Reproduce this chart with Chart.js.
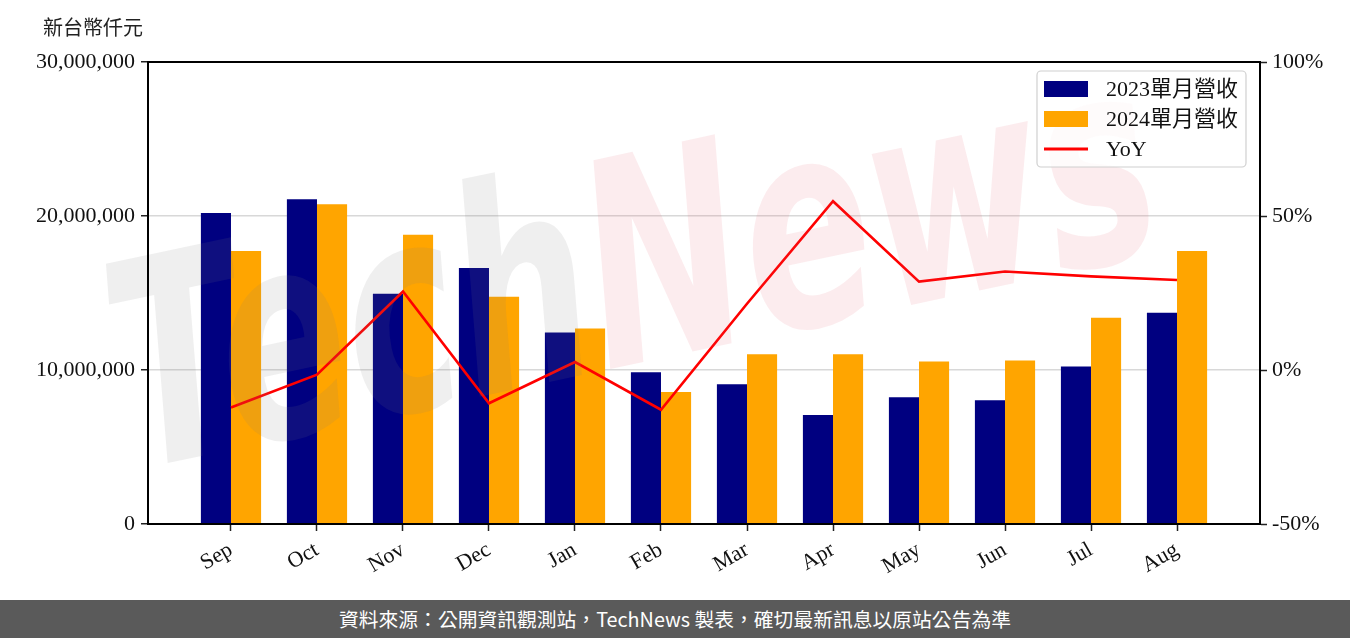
<!DOCTYPE html>
<html>
<head>
<meta charset="utf-8">
<script src="https://cdn.jsdelivr.net/npm/chart.js@4.4.1/dist/chart.umd.min.js"></script>
<style>
  html, body { margin: 0; padding: 0; background: #fff; }
  #wrap { position: relative; width: 1350px; height: 600px; }
  #footer { width: 1350px; height: 38px; background: #5a5a5a; color: #fff;
    font-family: 'Noto Sans CJK TC', 'Noto Sans', sans-serif; font-size: 19.8px;
    line-height: 38px; text-align: center; }
</style>
</head>
<body>
<div id="wrap"><canvas id="c" width="1350" height="600"></canvas></div>
<div id="footer">資料來源：公開資訊觀測站，TechNews 製表，確切最新訊息以原站公告為準</div>
<script>
const months = ['Sep','Oct','Nov','Dec','Jan','Feb','Mar','Apr','May','Jun','Jul','Aug'];
const rev2023 = [20190000, 21090000, 14950000, 16630000, 12430000, 9860000, 9070000, 7070000, 8230000, 8040000, 10230000, 13720000];
const rev2024 = [17730000, 20770000, 18790000, 14760000, 12690000, 8570000, 11030000, 11030000, 10560000, 10620000, 13400000, 17730000];
const yoy = [-12.2, -1.5, 25.5, -10.8, 2.6, -12.9, 21.5, 54.8, 28.7, 32.0, 30.4, 29.2];
const leftTicks = [0, 10000000, 20000000, 30000000];
const rightTicks = [-50, 0, 50, 100];
const unitTitle = '新台幣仟元';
const seriesLabels = ['2023單月營收', '2024單月營收', 'YoY'];

const serif = "'Liberation Serif', 'Noto Sans CJK TC', serif";
const FS = 22;

const decor = {
  id: 'decor',
  afterDatasetsDraw(chart) {
    const ctx = chart.ctx;
    ctx.save();
    ctx.translate(135, 470);
    ctx.rotate(-12 * Math.PI / 180);
    ctx.scale(1, 1.5);
    ctx.font = "bold italic 190px 'DejaVu Sans'";
    ctx.textBaseline = 'alphabetic';
    ctx.fillStyle = 'rgba(120,120,120,0.12)';
    ctx.fillText('Tech', 0, 0);
    const w = ctx.measureText('Tech').width;
    ctx.fillStyle = 'rgba(225,70,90,0.10)';
    ctx.fillText('News', w, 0);
    ctx.restore();
  },
  afterDraw(chart) {
    const ctx = chart.ctx;
    const a = chart.chartArea;
    ctx.save();
    ctx.strokeStyle = '#000';
    ctx.lineWidth = 2;
    ctx.strokeRect(a.left, a.top, a.right - a.left, a.bottom - a.top);
    ctx.font = "20px 'Noto Sans CJK TC'";
    ctx.fillStyle = '#222';
    ctx.textAlign = 'left';
    ctx.textBaseline = 'middle';
    ctx.fillText(unitTitle, 43, 27);
    const lx = 1037, ly = 71, lw = 209, lh = 96, r = 4;
    ctx.beginPath();
    ctx.moveTo(lx + r, ly);
    ctx.arcTo(lx + lw, ly, lx + lw, ly + lh, r);
    ctx.arcTo(lx + lw, ly + lh, lx, ly + lh, r);
    ctx.arcTo(lx, ly + lh, lx, ly, r);
    ctx.arcTo(lx, ly, lx + lw, ly, r);
    ctx.closePath();
    ctx.fillStyle = 'rgba(255,255,255,0.8)';
    ctx.fill();
    ctx.strokeStyle = '#d0d0d0';
    ctx.lineWidth = 1.2;
    ctx.stroke();
    const ds = chart.data.datasets;
    const rows = [89, 119, 149];
    ctx.font = FS + 'px ' + serif;
    ctx.textBaseline = 'middle';
    ds.forEach((d, i) => {
      const cy = rows[i];
      if (d.type === 'line') {
        ctx.strokeStyle = d.borderColor;
        ctx.lineWidth = 3;
        ctx.beginPath();
        ctx.moveTo(1044, cy);
        ctx.lineTo(1088, cy);
        ctx.stroke();
      } else {
        ctx.fillStyle = d.backgroundColor;
        ctx.fillRect(1044, cy - 8, 44, 16);
      }
      ctx.fillStyle = '#111';
      ctx.fillText(d.label, 1106, cy + 1);
    });
    ctx.restore();
  }
};

const idx = months.map((_, i) => i);

new Chart(document.getElementById('c'), {
  type: 'bar',
  data: {
    datasets: [
      { label: seriesLabels[0], data: rev2023.map((v, i) => ({ x: idx[i], y: v })), backgroundColor: '#000080', yAxisID: 'y', order: 2 },
      { label: seriesLabels[1], data: rev2024.map((v, i) => ({ x: idx[i], y: v })), backgroundColor: '#FFA500', yAxisID: 'y', order: 2 },
      { label: seriesLabels[2], type: 'line', data: yoy.map((v, i) => ({ x: idx[i], y: v })), borderColor: '#FF0000', backgroundColor: '#FF0000', borderWidth: 2.6, pointRadius: 0, tension: 0, yAxisID: 'y1', order: 1 }
    ]
  },
  options: {
    responsive: false,
    animation: false,
    categoryPercentage: 0.7,
    barPercentage: 1.0,
    layout: { padding: { top: 62, left: 0, right: 0, bottom: 0 } },
    plugins: { legend: { display: false }, tooltip: { enabled: false } },
    scales: {
      x: {
        type: 'linear', min: -0.965, max: 11.965, offset: false,
        afterBuildTicks: s => { s.ticks = idx.map(v => ({ value: v })); },
        afterFit: s => { s.height = 76; },
        ticks: { callback: v => months[v], autoSkip: false, minRotation: 30, maxRotation: 30, padding: 6, color: '#111', font: { family: serif, size: FS } },
        grid: { offset: false, drawOnChartArea: false, tickLength: 7, tickColor: '#222', tickWidth: 1.5 },
        border: { display: true, color: '#000', width: 2 }
      },
      y: {
        position: 'left', min: 0, max: 30000000,
        afterBuildTicks: s => { s.ticks = leftTicks.map(v => ({ value: v })); },
        afterFit: s => { s.width = 148; },
        ticks: { callback: v => v.toLocaleString('en-US'), padding: 6, color: '#111', font: { family: serif, size: FS } },
        grid: { color: '#d8d8d8', lineWidth: 1.5, tickLength: 7, tickColor: '#222', tickWidth: 1.5 },
        border: { display: true, color: '#000', width: 2 }
      },
      y1: {
        position: 'right', min: -50, max: 100,
        afterBuildTicks: s => { s.ticks = rightTicks.map(v => ({ value: v })); },
        afterFit: s => { s.width = 90; },
        ticks: { callback: v => v + '%', padding: 5, color: '#111', font: { family: serif, size: FS } },
        grid: { drawOnChartArea: false, tickLength: 7, tickColor: '#222', tickWidth: 1.5 },
        border: { display: true, color: '#000', width: 2 }
      }
    }
  },
  plugins: [decor]
});
</script>
</body>
</html>
